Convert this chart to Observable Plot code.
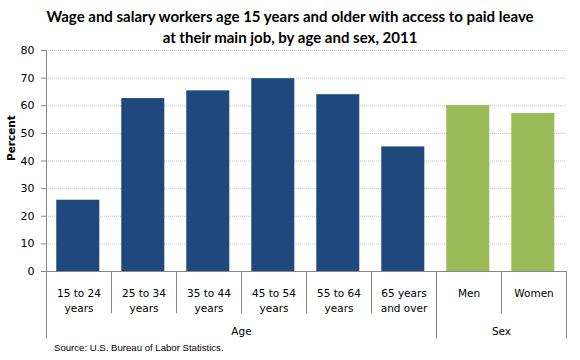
<!DOCTYPE html>
<html>
<head>
<meta charset="utf-8">
<script src="https://cdn.jsdelivr.net/npm/d3@7"></script>
<script src="https://cdn.jsdelivr.net/npm/@observablehq/plot@0.6"></script>
<style>
  html, body { margin: 0; padding: 0; background: #fff; }
  #wrap { position: relative; width: 580px; height: 360px; overflow: hidden; }
  #title { position: absolute; top: 6px; left: 0; width: 580px; text-align: center;
           font-family: Lato, "Liberation Sans", sans-serif; font-weight: bold; font-size: 15px;
           line-height: 21px; color: #000; }
  #source { position: absolute; top: 342px; left: 54px; font-family: "Liberation Sans", sans-serif;
            font-size: 9.6px; line-height: 12px; color: #000; white-space: nowrap; }
  #chart { position: absolute; top: 0; left: 0; }
</style>
</head>
<body>
<div id="wrap">
  <div id="chart"></div>
  <div id="title">Wage and salary workers age 15 years and older with access to paid leave<br>at their main job, by age and sex, 2011</div>
  <div id="source">Source: U.S. Bureau of Labor Statistics.</div>
</div>
<script>
const categories = ["15 to 24\nyears", "25 to 34\nyears", "35 to 44\nyears", "45 to 54\nyears", "55 to 64\nyears", "65 years\nand over", "Men", "Women"];
const values = [25.8, 62.6, 65.4, 69.8, 64.0, 45.1, 60.1, 57.2];
const groups = ["Age", "Age", "Age", "Age", "Age", "Age", "Sex", "Sex"];
const groupNames = ["Age", "Sex"];
const groupColors = ["#1F497D", "#9BBB59"];
const yTicks = [0, 10, 20, 30, 40, 50, 60, 70, 80];

const data = categories.map((label, i) => ({label, value: values[i], group: groups[i], i}));
const groupSpans = groupNames.map(name => {
  const idx = groups.map((g, i) => g === name ? i : -1).filter(i => i >= 0);
  return {name, start: d3.min(idx), end: d3.max(idx) + 1};
});
const groupEdges = Array.from(new Set(groupSpans.flatMap(g => [g.start, g.end])));
const innerEdges = d3.range(1, categories.length).filter(e => !groupEdges.includes(e));

const axisColor = "#868686";
const font = "DejaVu Sans, sans-serif";

const chart = Plot.plot({
  width: 580,
  height: 360,
  marginTop: 50,
  marginBottom: 89,
  marginLeft: 46,
  marginRight: 14,
  style: {fontFamily: font, background: "transparent", color: "#000"},
  x: {type: "linear", domain: [0, categories.length], axis: null},
  y: {domain: [0, 80], axis: null},
  color: {domain: groupNames, range: groupColors},
  marks: [
    Plot.ruleY(yTicks.filter(t => t > 0), {y: d => d, x1: () => 0, x2: () => categories.length,
      stroke: "#c4c4c4", strokeDasharray: "1,1"}),
    Plot.rectY(data, {x1: d => d.i + 0.158, x2: d => d.i + 0.82, y1: () => 0, y2: "value", fill: "group"}),
    Plot.axisY(yTicks, {tickSize: 5, tickPadding: 7, stroke: axisColor, fill: "#000", fontSize: 11, label: null, tickFormat: d => d}),
    Plot.ruleX([0], {x: d => d, y1: () => 0, y2: () => 80, stroke: axisColor}),
    Plot.ruleY([0], {y: d => d, x1: () => 0, x2: () => categories.length, stroke: axisColor}),
    Plot.ruleX(innerEdges, {x: d => d, y1: () => 0, y2: () => 0, insetBottom: -42.3, stroke: axisColor}),
    Plot.ruleX(groupEdges, {x: d => d, y1: () => 0, y2: () => 0, insetBottom: -67.3, stroke: axisColor}),
    Plot.text(data, {x: d => d.i + 0.5, y: () => 0, text: "label", lineAnchor: "top", dy: 14,
      lineHeight: 1.5, fontSize: 10.5, fill: "#000"}),
    Plot.text(groupSpans, {x: d => (d.start + d.end) / 2, y: () => 0, text: "name", lineAnchor: "top",
      dy: 55.7, fontSize: 10.5, fill: "#000"}),
    Plot.text(["Percent"], {frameAnchor: "left", rotate: -90, dx: -35, text: d => d,
      fontWeight: "bold", fontSize: 10.5, fill: "#000"})
  ]
});
document.getElementById("chart").appendChild(chart);
</script>
</body>
</html>
